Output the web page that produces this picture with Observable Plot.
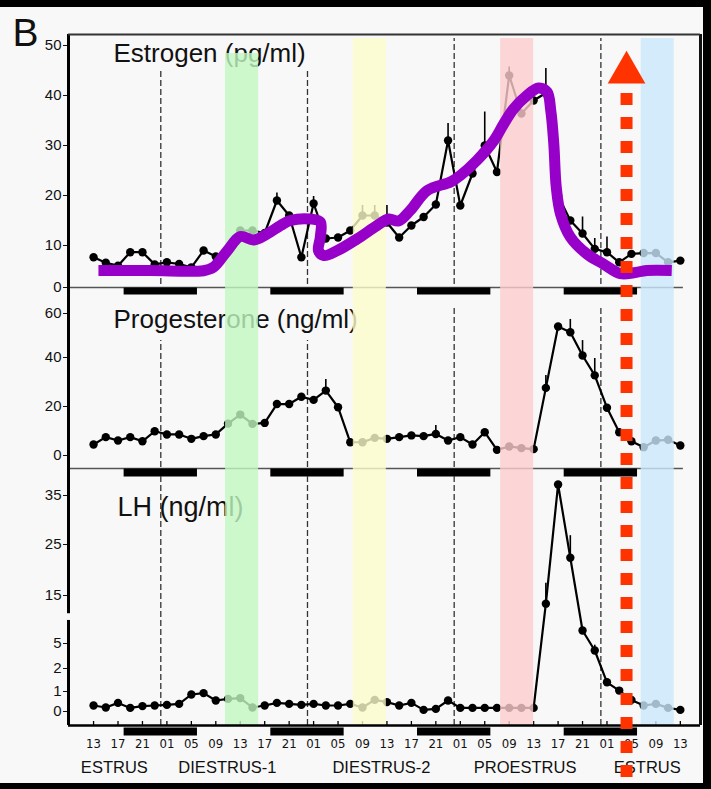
<!DOCTYPE html>
<html><head><meta charset="utf-8">
<script src="https://cdn.jsdelivr.net/npm/d3@7"></script>
<script src="https://cdn.jsdelivr.net/npm/@observablehq/plot@0.6"></script>
<style>
html,body{margin:0;padding:0;background:#000;}
#wrap{position:relative;width:711px;height:789px;background:#000;overflow:hidden;}
#paper{position:absolute;left:0;top:7px;width:703px;height:776px;background:#f8f8f8;}
</style></head><body>
<div id="wrap"><div id="paper"></div></div>
<script>
// ---------- data (hours after 13:00 of first estrus day, sampled every 2 h) ----------
const hours = d3.range(0, 97, 2);
const estrogen = [7.2,5.9,5.2,8.4,8.4,5.5,6.0,5.6,4.8,8.8,7.4,9,13,13,12.5,19,16,7.2,18.4,11.4,11.6,13,16,16,14.6,11.6,14,15.7,18.2,31,18,24.4,30,24.7,44,36.4,39,40.5,20,15,12.4,9.2,8.4,6,8.0,8.2,8.2,6,6.4];
const progesterone = [4.5,7.5,6.1,7.5,5.8,9.9,8.6,8.6,6.8,7.9,8.6,13,16.7,12.9,13.3,21,21,24,22.7,26.5,19.7,5.4,5.4,7.2,6.8,7.5,8.2,7.9,8.8,6.1,7.5,4.5,9.5,2.3,3.7,3,2.6,27.6,54.1,51.5,40.9,32.7,19.5,9.5,5.8,3.4,6.1,6.4,4.1];
const lh = [0.3,0.2,0.43,0.18,0.27,0.3,0.33,0.38,0.85,0.92,0.55,0.63,0.67,0.2,0.3,0.43,0.38,0.33,0.38,0.3,0.3,0.38,0.2,0.58,0.47,0.3,0.43,0.08,0.13,0.55,0.18,0.18,0.18,0.18,0.18,0.18,0.18,13.3,37.2,22.4,7.7,4.16,1.4,1.04,0.58,0.3,0.38,0.18,0.08];

const estErrHours = [30,36,44,46,48,58,64,68,74,80,82,84];
const estErrTop   = [20.5,19.8,18,18,18,34.4,36.7,45.7,45.4,15.7,11.4,11.7];
const progErrHours = [38,56,74,78,80,82];
const progErrTop   = [31,12.2,32.7,57.3,47.7,39.6];
const lhErrHours = [74,78,82];
const lhErrTop   = [17.4,26.8,4.8];

// hand-drawn estrogen trend (purple)
const trendHours = [0.8,9.3,18.0,19.6,21.9,24.0,26.2,28.4,30.6,32.2,35.5,37.1,37.1,36.8,37.7,39.9,43.1,46.4,48.3,49.9,51.8,54.6,58.4,60.0,62.7,65.5,67.1,68.7,70.9,72.8,74.2,74.8,75.3,75.7,76.4,78.0,80.7,83.4,86.2,88.4,90.5,94.6];
const trendValues = [4.05,4.05,4.0,4.8,8.8,11.8,11.1,12.3,14,15,15.3,14.7,11.7,8.8,7.6,8.8,11.3,14,15.3,14.9,17,21,22.7,24,27,31,34.3,37.3,40,41.5,40.7,37,30.3,21.7,16.3,11.7,8.0,5.6,3.3,3.5,4.05,4.05];

const darkStart = [5,29,53,77];
const darkEnd   = [17,41,65,89];
const midnights = [11,35,59,83];

const bandStart = [21.6,42.5,66.6,89.6];
const bandEnd   = [27.0,47.9,72.0,95.0];
const bandTop   = [48.4,51.4,51.4,51.4];   // estrogen units
const bandColors = ["#c1f7c1","#fbfbcb","#fdcdcd","#cbe7fb"];

const ovulationHour = 87.2;

const tickHours = d3.range(0, 97, 4);
const tickLabels = ["13","17","21","01","05","09","13","17","21","01","05","09","13","17","21","01","05","09","13","17","21","01","05","09","13"];
const stageNames = ["ESTRUS","DIESTRUS-1","DIESTRUS-2","PROESTRUS","ESTRUS"];
const stageHours = [3.4,21.9,47.1,70.6,90.6];

const estTicks = [0,10,20,30,40,50];
const progTicks = [0,20,40,60];
const lhTicks = [0,1,2,5,15,25,35];

// ---------- layout ----------
const W = 711, ML = 68, MR = 11;
const xDomain = [-4.1, 99.3];
const FONT = "'Liberation Sans', Arial, Helvetica, sans-serif";
const NARROW = "'Liberation Sans Narrow', 'Arial Narrow', 'DejaVu Sans Condensed', sans-serif";
const style = {background: "transparent", overflow: "visible", fontFamily: FONT, fontSize: "15px", color: "#111"};
const idx = h => hours.indexOf(h);
const bands = bandStart.map((s, i) => ({s, e: bandEnd[i], top: bandTop[i], fill: bandColors[i]}));
const dark = darkStart.map((s, i) => ({s, e: darkEnd[i]}));
const trend = trendHours.map((h, i) => ({h, v: trendValues[i]}));

const estMin = -1.43, estMax = 52.2;
const progMin = -8.57, progMax = 69.1, progBase = -5.3;
const lhMin = -0.7, lhMax = 38.8;

// piecewise (broken / uneven) value axes of the original figure
const fE = d3.scaleLinear().domain([estMin, 0, 10, 50, estMax]).range([293, 287, 245, 45, 34]);
const fP = d3.scaleLinear().domain([progMin, 0, 40, 60, progMax]).range([183, 162, 64, 20, 0]);
const fL = d3.scaleLinear().domain([lhMin, 0, 1, 2, 5, 15, 25, 35, lhMax]).range([249, 235, 215, 192, 167, 119, 68, 19, 0]);

function yScale(f, ticks) {
  const pos = ticks.map(f);
  const [a, b] = [f(f.domain()[0]), f(f.domain()[f.domain().length - 1])];
  return {domain: [a, b], range: [a, b], ticks: pos,
          tickFormat: d => String(ticks[pos.findIndex(p => Math.abs(p - d) < 1e-6)]),
          tickSize: 5, tickPadding: 2, label: null};
}

function seriesMarks(values, errHours, errTop, f) {
  return [
    Plot.ruleX(errHours, {x: d => d, y1: d => f(values[idx(d)]), y2: (d, i) => f(errTop[i]), stroke: "#000", strokeWidth: 1.6}),
    Plot.line(hours, {x: d => d, y: (d, i) => f(values[i]), stroke: "#000", strokeWidth: 2.2}),
    Plot.dot(hours, {x: d => d, y: (d, i) => f(values[i]), r: 4.2, fill: "#000"})
  ];
}
function bandMarks(withTop) {
  return withTop
    ? Plot.rect(bands, {x1: "s", x2: "e", y1: () => fE(estMin), y2: d => fE(d.top), fill: "fill", fillOpacity: 0.8})
    : Plot.rect(bands, {x1: "s", x2: "e", fill: "fill", fillOpacity: 0.8});
}

// ---------- panel 1 : Estrogen ----------
const p1 = Plot.plot({
  width: W, height: 293, marginLeft: ML, marginRight: MR, marginTop: 34, marginBottom: 0,
  style,
  x: {domain: xDomain, axis: null},
  y: yScale(fE, estTicks),
  marks: [
    Plot.ruleX(midnights, {x: d => d, y1: () => fE(estMin), y2: d => fE(d < 40 ? 45 : 51.4), stroke: "#333", strokeWidth: 1.3, strokeDasharray: "6,3"}),
    Plot.text(["Estrogen (pg/ml)"], {text: d => d, frameAnchor: "top-left", dx: 45, dy: 27, lineAnchor: "bottom", textAnchor: "start", fontSize: 26, fill: "#111"}),
    Plot.text(["B"], {text: d => d, frameAnchor: "top-left", dx: -56, dy: 11, lineAnchor: "bottom", textAnchor: "start", fontSize: 39, fill: "#111"}),
    Plot.ruleY([0], {y: d => fE(d), x1: () => xDomain[0], x2: () => 96.5, stroke: "#555", strokeWidth: 1.5}),
    Plot.ruleY(dark, {x1: "s", x2: "e", y: () => fE(0), dy: 3.5, stroke: "#000", strokeWidth: 7}),
    ...seriesMarks(estrogen, estErrHours, estErrTop, fE),
    bandMarks(true),
    Plot.line(trend, {x: "h", y: d => fE(d.v), curve: "catmull-rom", stroke: "#9600c8", strokeWidth: 11, strokeLinejoin: "round", strokeLinecap: "butt"}),
    Plot.ruleX([xDomain[0]], {x: d => d, stroke: "#000", strokeWidth: 3}),
    Plot.ruleX([xDomain[1]], {x: d => d, stroke: "#111", strokeWidth: 3}),
    Plot.ruleY([estMax], {y: d => fE(d), stroke: "#333", strokeWidth: 2})
  ]
});

// ---------- panel 2 : Progesterone ----------
const p2 = Plot.plot({
  width: W, height: 183, marginLeft: ML, marginRight: MR, marginTop: 0, marginBottom: 0,
  style,
  x: {domain: xDomain, axis: null},
  y: yScale(fP, progTicks),
  marks: [
    Plot.ruleX(midnights, {x: d => d, y1: () => fP(progMin), y2: d => fP(d < 40 ? 47.7 : 62.3), stroke: "#333", strokeWidth: 1.3, strokeDasharray: "6,3"}),
    Plot.text(["Progesterone (ng/ml)"], {text: d => d, frameAnchor: "top-left", dx: 45, dy: 34, lineAnchor: "bottom", textAnchor: "start", fontSize: 26, fill: "#111"}),
    Plot.ruleY([progBase], {y: d => fP(d), x1: () => xDomain[0], x2: () => 96.5, stroke: "#555", strokeWidth: 1.5}),
    Plot.ruleY(dark, {x1: "s", x2: "e", y: () => fP(progBase), dy: 4, stroke: "#000", strokeWidth: 8}),
    ...seriesMarks(progesterone, progErrHours, progErrTop, fP),
    bandMarks(false),
    Plot.ruleX([xDomain[0]], {x: d => d, stroke: "#000", strokeWidth: 3}),
    Plot.ruleX([xDomain[1]], {x: d => d, stroke: "#111", strokeWidth: 3})
  ]
});

// ---------- panel 3 : LH ----------
const p3 = Plot.plot({
  width: W, height: 313, marginLeft: ML, marginRight: MR, marginTop: 0, marginBottom: 64,
  style,
  x: {domain: xDomain, axis: null},
  y: yScale(fL, lhTicks),
  marks: [
    Plot.ruleX(midnights, {x: d => d, stroke: "#333", strokeWidth: 1.3, strokeDasharray: "6,3"}),
    Plot.text(["LH (ng/ml)"], {text: d => d, frameAnchor: "top-left", dx: 49, dy: 39, lineAnchor: "bottom", textAnchor: "start", fontSize: 27, fill: "#111"}),
    Plot.ruleY(dark, {x1: "s", x2: "e", y: () => fL(lhMin), dy: 6, stroke: "#000", strokeWidth: 8}),
    Plot.ruleX(tickHours, {x: d => d, insetTop: 245, stroke: "#000", strokeWidth: 1.3}),
    Plot.text(tickHours, {x: d => d, text: (d, i) => tickLabels[i], frameAnchor: "bottom", dy: 22, fontFamily: NARROW, fontSize: 13, fill: "#111"}),
    Plot.text(stageNames, {x: (d, i) => stageHours[i], text: d => d, frameAnchor: "bottom", dy: 47, fontSize: 16.5, fill: "#111"}),
    ...seriesMarks(lh, lhErrHours, lhErrTop, fL),
    bandMarks(false),
    Plot.ruleY([lhMin], {y: d => fL(d), stroke: "#000", strokeWidth: 2.5}),
    Plot.ruleX([xDomain[0]], {x: d => d, y1: () => fL(lhMin), y2: () => fL(9.8), stroke: "#000", strokeWidth: 3}),
    Plot.ruleX([xDomain[0]], {x: d => d, y1: () => fL(11.2), y2: () => fL(lhMax), stroke: "#000", strokeWidth: 3}),
    Plot.ruleX([xDomain[1]], {x: d => d, y1: () => fL(lhMin), y2: () => fL(lhMax), stroke: "#111", strokeWidth: 3})
  ]
});

// ---------- overlay : ovulation arrow ----------
const p4 = Plot.plot({
  width: W, height: 789, marginLeft: ML, marginRight: MR, marginTop: 72, marginBottom: 0,
  style,
  x: {domain: xDomain, axis: null},
  marks: [
    Plot.ruleX([ovulationHour], {x: d => d, stroke: "#ff3300", strokeWidth: 12, strokeDasharray: "12,12", strokeDashoffset: 3}),
    Plot.dot([ovulationHour], {x: d => d, frameAnchor: "top", symbol: "triangle", r: 14, fill: "#ff3300"})
  ]
});

const wrap = document.getElementById("wrap");
[[p1, 0], [p2, 293], [p3, 476], [p4, 0]].forEach(([el, top]) => {
  el.style.position = "absolute";
  el.style.left = "0px";
  el.style.top = top + "px";
  el.style.maxWidth = "none";
  wrap.appendChild(el);
});
</script>
</body></html>
